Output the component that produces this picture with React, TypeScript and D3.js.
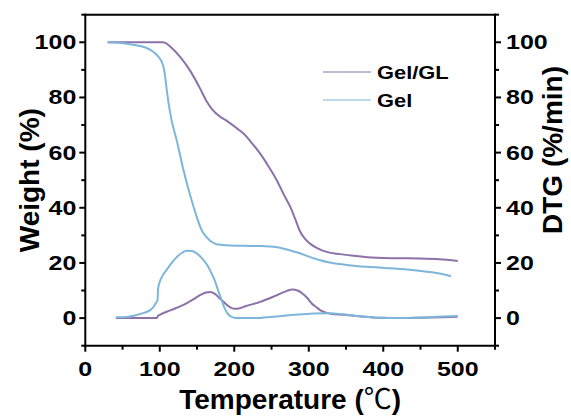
import React from "react";
import * as d3 from "d3";

const W = 571;
const H = 418;

// Temperature (°C), weight (%) — TG curves
const tgGelGL_T = [30, 60, 90, 104, 108, 115, 127, 140, 154, 163, 170, 181, 190, 205, 212, 225, 234.5, 246, 257, 267, 275, 282, 288, 295, 301.6, 312, 324, 342, 360, 384, 400, 425, 450, 475, 500];
const tgGelGL_W = [100, 100, 100, 100, 99.7, 98.2, 94.8, 90, 83.3, 78.5, 75.8, 73, 71.5, 68.5, 67, 63, 59.7, 55, 50, 44.5, 40.4, 35.8, 31.6, 28.7, 27, 25.3, 24, 23.2, 22.6, 22, 21.8, 21.7, 21.6, 21.3, 20.7];

const tgGel_T = [30, 45, 64, 80, 87, 93, 98, 102, 105, 107, 109, 112, 116, 122.7, 131.5, 140.5, 149.5, 156, 163, 170, 176, 190, 212, 235, 257, 272, 288, 301, 315, 328, 342, 360, 378, 401, 425, 445, 465, 480, 491];
const tgGel_W = [100, 99.8, 99.1, 98.2, 97.3, 96.2, 94.8, 93.2, 91, 88, 83.5, 77.5, 71.5, 64.5, 54, 44.8, 36.8, 32, 29.3, 27.6, 26.8, 26.4, 26.2, 26.1, 25.7, 24.8, 23.5, 22.2, 21, 20.2, 19.6, 19, 18.6, 18.2, 17.8, 17.3, 16.6, 15.9, 15.2];

// DTG curves (%/min)
const dtgGelGL_T = [41, 70, 96, 97.5, 100, 115, 131, 145, 154, 162, 168, 174, 181, 188, 194, 200, 206, 215, 235, 257, 270, 278, 285, 291, 298, 304, 311, 317, 324, 331, 345, 364, 380, 396, 420, 450, 480, 500];
const dtgGelGL_V = [0, 0, 0, 0.8, 1.2, 2.9, 4.7, 6.8, 8.3, 9.3, 9.5, 8.8, 7, 5.3, 4, 3.4, 3.5, 4.3, 5.9, 8.3, 9.8, 10.4, 10, 9, 7.3, 5.3, 3.8, 2.6, 1.9, 1.5, 1.2, 0.8, 0.4, 0.1, 0, 0.1, 0.3, 0.5];

const dtgGel_T = [41, 55, 73, 80, 87, 92, 95, 97, 97.3, 97.6, 100, 104, 109, 116, 123, 130, 136, 143, 150, 157, 163, 169, 174, 179, 183, 187, 191, 196, 200, 210, 230, 252, 280, 306, 328, 345, 364, 380, 396, 420, 450, 480, 500];
const dtgGel_V = [0.3, 0.4, 1.45, 2, 2.9, 4.2, 5.6, 6.6, 8.5, 10.5, 13.2, 15.5, 17.4, 20, 22.2, 23.7, 24.4, 24.3, 23.4, 21.6, 19.5, 16.5, 13.5, 9.5, 6.5, 3.6, 1.6, 0.5, 0.1, 0, 0, 0.5, 1.2, 1.7, 1.8, 1.4, 0.8, 0.4, 0.1, 0, 0.2, 0.6, 0.8];

const xMajor = [0, 100, 200, 300, 400, 500];
const xMinor = [50, 150, 250, 350, 450, 550];
const yMajor = [0, 20, 40, 60, 80, 100];
const yMinor = [-10, 10, 30, 50, 70, 90, 110];

const seriesNames = ["Gel/GL", "Gel"];
const PURPLE = "#8c72a9";
const BLUE = "#7db6da";

const FONT = "'Liberation Sans', Arial, sans-serif";

export default function App() {
  const x = d3.scaleLinear().domain([0, 550]).range([85.3, 495]);
  const y = d3.scaleLinear().domain([-10, 110]).range([345.7, 14.7]);
  const line = d3
    .line<[number, number]>()
    .x((d) => x(d[0]))
    .y((d) => y(d[1]))
    .curve(d3.curveMonotoneX);
  const zip = (a: number[], b: number[]) => a.map((v, i) => [v, b[i]] as [number, number]);

  const curves = [
    { d: zip(tgGelGL_T, tgGelGL_W), c: PURPLE },
    { d: zip(tgGel_T, tgGel_W), c: BLUE },
    { d: zip(dtgGelGL_T, dtgGelGL_V), c: PURPLE },
    { d: zip(dtgGel_T, dtgGel_V), c: BLUE },
  ];

  const x0 = x(0), x1 = x(550), y0 = y(-10), y1 = y(110);
  const tickStyle = { fontFamily: FONT, fontWeight: 700, fontSize: 20 } as const;

  return (
    <svg width={W} height={H} style={{ position: "absolute", left: 0, top: 0, background: "#fff" }}>
      {curves.map((s, i) => (
        <path key={i} d={line(s.d) || ""} fill="none" stroke={s.c} strokeWidth={2} strokeLinejoin="round" />
      ))}
      {/* frame */}
      <g stroke="#000" strokeWidth={2} fill="none">
        <line x1={x0} y1={y1 - 1} x2={x0} y2={y0 + 1} />
        <line x1={x1} y1={y1 - 1} x2={x1} y2={y0 + 1} />
        <line x1={x0 - 1} y1={y0} x2={x1 + 1} y2={y0} />
        <line x1={x0 - 1} y1={y1} x2={x1 + 1} y2={y1} />
        {xMajor.map((v) => (
          <line key={"xM" + v} x1={x(v)} x2={x(v)} y1={y0} y2={y0 + 6} />
        ))}
        {xMinor.map((v) => (
          <line key={"xm" + v} x1={x(v)} x2={x(v)} y1={y0} y2={y0 + 4} />
        ))}
        {yMajor.map((v) => (
          <g key={"yM" + v}>
            <line x1={x0 - 6} x2={x0} y1={y(v)} y2={y(v)} />
            <line x1={x1} x2={x1 + 6} y1={y(v)} y2={y(v)} />
          </g>
        ))}
        {yMinor.map((v) => (
          <g key={"ym" + v}>
            <line x1={x0 - 4} x2={x0} y1={y(v)} y2={y(v)} />
            <line x1={x1} x2={x1 + 4} y1={y(v)} y2={y(v)} />
          </g>
        ))}
      </g>
      {/* tick labels */}
      {xMajor.map((v) => (
        <g key={"xl" + v} transform={`translate(${x(v)},${376}) scale(1.25,1)`}>
          <text textAnchor="middle" style={tickStyle}>{v}</text>
        </g>
      ))}
      {yMajor.map((v) => (
        <g key={"yl" + v}>
          <g transform={`translate(${x0 - 9},${y(v) + 7}) scale(1.25,1)`}>
            <text textAnchor="end" style={tickStyle}>{v}</text>
          </g>
          <g transform={`translate(${x1 + 11},${y(v) + 7}) scale(1.25,1)`}>
            <text textAnchor="start" style={tickStyle}>{v}</text>
          </g>
        </g>
      ))}
      {/* axis titles */}
      <text x={(x0 + x1) / 2} y={409} textAnchor="middle" style={{ fontFamily: FONT, fontWeight: 700, fontSize: 28 }}>
        Temperature (<tspan style={{ fontFamily: "'Noto Sans CJK SC', sans-serif", fontWeight: 400 }}>℃</tspan>)
      </text>
      <text transform={`translate(39,${(y0 + y1) / 2}) rotate(-90)`} textAnchor="middle" style={{ fontFamily: FONT, fontWeight: 700, fontSize: 28 }}>
        Weight (%)
      </text>
      <text transform={`translate(562,150) rotate(-90)`} textAnchor="middle" style={{ fontFamily: FONT, fontWeight: 700, fontSize: 28 }}>
        DTG (%/min)
      </text>
      {/* legend */}
      {seriesNames.map((n, i) => (
        <g key={n} transform={`translate(0,${72 + i * 28})`}>
          <line x1={323} x2={371} y1={0} y2={0} stroke={i === 0 ? PURPLE : BLUE} strokeWidth={1.2} />
          <g transform={`translate(377,7) scale(1.15,1)`}>
            <text style={{ fontFamily: FONT, fontWeight: 700, fontSize: 19 }}>{n}</text>
          </g>
        </g>
      ))}
    </svg>
  );
}
